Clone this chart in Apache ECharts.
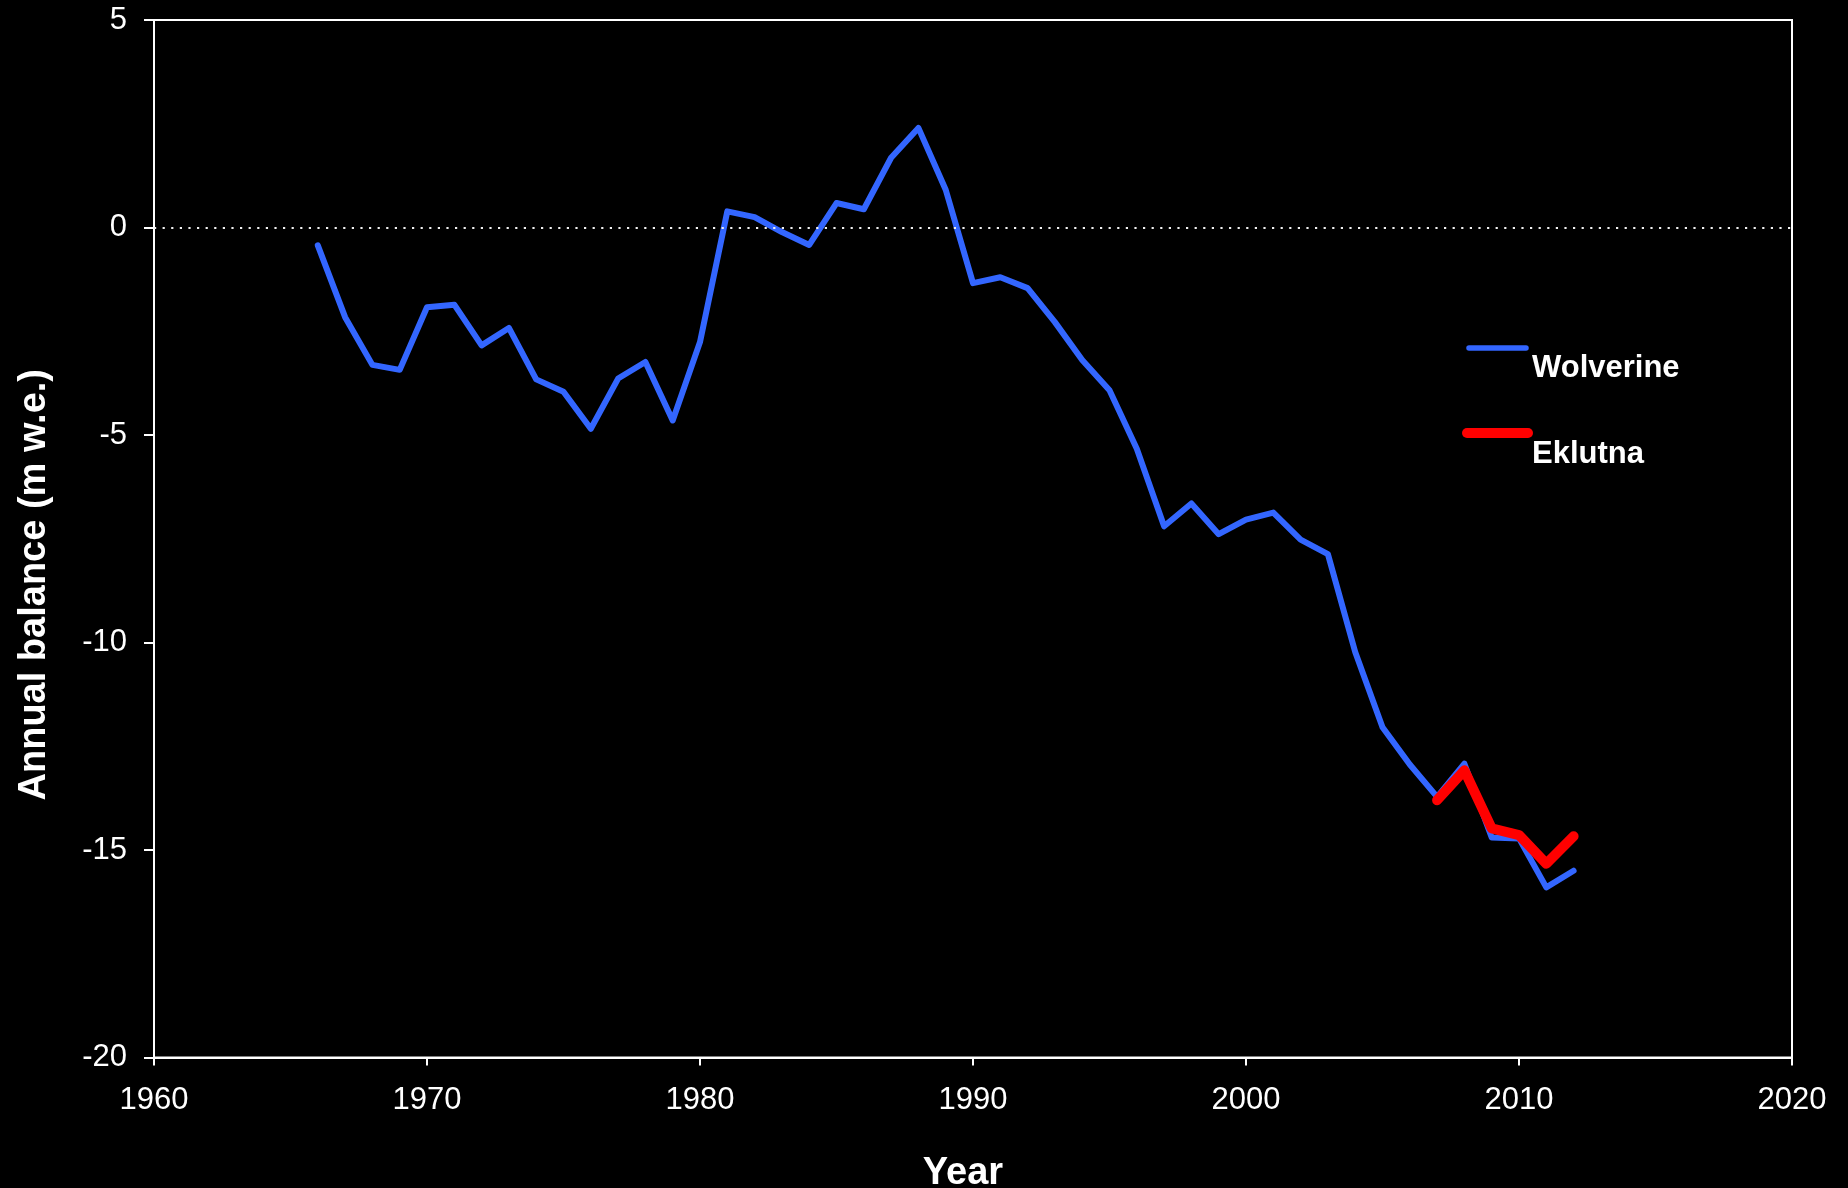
<!DOCTYPE html>
<html>
<head>
<meta charset="utf-8">
<title>Annual balance</title>
<script src="https://cdn.jsdelivr.net/npm/echarts@6/dist/echarts.min.js"></script>
<style>
  html, body { margin: 0; padding: 0; background: #000; }
  #chart { width: 1848px; height: 1188px; }
</style>
</head>
<body>
<div id="chart"></div>
<script>
// Cumulative annual balance (m w.e.)
const wolverineYears = [1966, 1967, 1968, 1969, 1970, 1971, 1972, 1973, 1974, 1975,
  1976, 1977, 1978, 1979, 1980, 1981, 1982, 1983, 1984, 1985, 1986, 1987, 1988, 1989,
  1990, 1991, 1992, 1993, 1994, 1995, 1996, 1997, 1998, 1999, 2000, 2001, 2002, 2003,
  2004, 2005, 2006, 2007, 2008, 2009, 2010, 2011, 2012];
const wolverineValues = [-0.43, -2.16, -3.31, -3.43, -1.92, -1.86, -2.84, -2.42, -3.66, -3.96,
  -4.85, -3.64, -3.24, -4.65, -2.76, 0.39, 0.25, -0.11, -0.42, 0.59, 0.44, 1.68, 2.40, 0.91,
  -1.34, -1.20, -1.46, -2.28, -3.19, -3.92, -5.33, -7.20, -6.65, -7.39, -7.04, -6.87, -7.52, -7.87,
  -10.23, -12.04, -12.94, -13.72, -12.92, -14.70, -14.72, -15.90, -15.50];

const eklutnaYears = [2007, 2008, 2009, 2010, 2011, 2012];
const eklutnaValues = [-13.80, -13.08, -14.48, -14.64, -15.33, -14.67];

const seriesNames = ['Wolverine', 'Eklutna'];
const seriesColors = ['#3366FF', '#FF0000'];

const xTicks = { min: 1960, max: 2020, interval: 10 };
const yTicks = { min: -20, max: 5, interval: 5 };

const FONT = '"Liberation Sans", Arial, sans-serif';

const pairs = (xs, ys) => xs.map((x, i) => [x, ys[i]]);

const chart = echarts.init(document.getElementById('chart'), null, { renderer: 'canvas' });

const legendRows = [
  { y: 348, lineX: [1469, 1526], width: 5.5, textY: 368 },
  { y: 433, lineX: [1467, 1528], width: 10, textY: 454 }
];

chart.setOption({
  backgroundColor: '#000',
  animation: false,
  grid: {
    left: 154, top: 20, width: 1638, height: 1037.5,
    show: true, borderColor: '#fff', borderWidth: 2, backgroundColor: 'transparent',
    containLabel: false,
    outerBoundsMode: 'none'
  },
  xAxis: {
    type: 'value',
    min: xTicks.min, max: xTicks.max, interval: xTicks.interval,
    name: 'Year',
    nameLocation: 'middle',
    nameGap: 97,
    nameTextStyle: { color: '#fff', fontSize: 38, fontWeight: 'bold', fontFamily: FONT, padding: [0, 20, 0, 0] },
    axisLine: { show: true, onZero: false, lineStyle: { color: '#fff', width: 2 } },
    axisTick: { show: true, inside: false, length: 8, lineStyle: { color: '#fff', width: 2 } },
    axisLabel: { color: '#fff', fontSize: 31, fontFamily: FONT, margin: 27, formatter: v => String(v) },
    splitLine: { show: false }
  },
  yAxis: {
    type: 'value',
    min: yTicks.min, max: yTicks.max, interval: yTicks.interval,
    name: 'Annual balance (m w.e.)',
    nameLocation: 'middle',
    nameGap: 100,
    nameRotate: 90,
    nameTextStyle: { color: '#fff', fontSize: 38, fontWeight: 'bold', fontFamily: FONT, padding: [0, 92, 0, 0] },
    axisLine: { show: true, onZero: false, lineStyle: { color: '#fff', width: 2 } },
    axisTick: { show: true, inside: false, length: 10, lineStyle: { color: '#fff', width: 2 } },
    axisLabel: { color: '#fff', fontSize: 31, fontFamily: FONT, margin: 27 },
    splitLine: { show: false }
  },
  series: [
    {
      name: seriesNames[0],
      type: 'line',
      data: pairs(wolverineYears, wolverineValues),
      showSymbol: false,
      symbol: 'none',
      color: seriesColors[0],
      lineStyle: { color: seriesColors[0], width: 6, cap: 'round', join: 'round' },
      z: 3,
      markLine: {
        silent: true,
        symbol: 'none',
        label: { show: false },
        lineStyle: { color: '#f0f0f0', width: 2.2, type: [2.2, 6.4], opacity: 1 },
        data: [{ yAxis: 0 }]
      }
    },
    {
      name: seriesNames[1],
      type: 'line',
      data: pairs(eklutnaYears, eklutnaValues),
      showSymbol: false,
      symbol: 'none',
      color: seriesColors[1],
      lineStyle: { color: seriesColors[1], width: 10, cap: 'round', join: 'round' },
      z: 4
    }
  ],
  graphic: legendRows.flatMap((row, i) => [
    {
      type: 'line',
      shape: { x1: row.lineX[0], y1: row.y, x2: row.lineX[1], y2: row.y },
      style: { stroke: seriesColors[i], lineWidth: row.width, lineCap: 'round' },
      z: 10
    },
    {
      type: 'text',
      x: 1532, y: row.textY,
      style: {
        text: seriesNames[i], fill: '#fff', font: 'bold 31px ' + FONT,
        textAlign: 'left', textVerticalAlign: 'middle'
      },
      z: 10
    }
  ])
});
</script>
</body>
</html>
